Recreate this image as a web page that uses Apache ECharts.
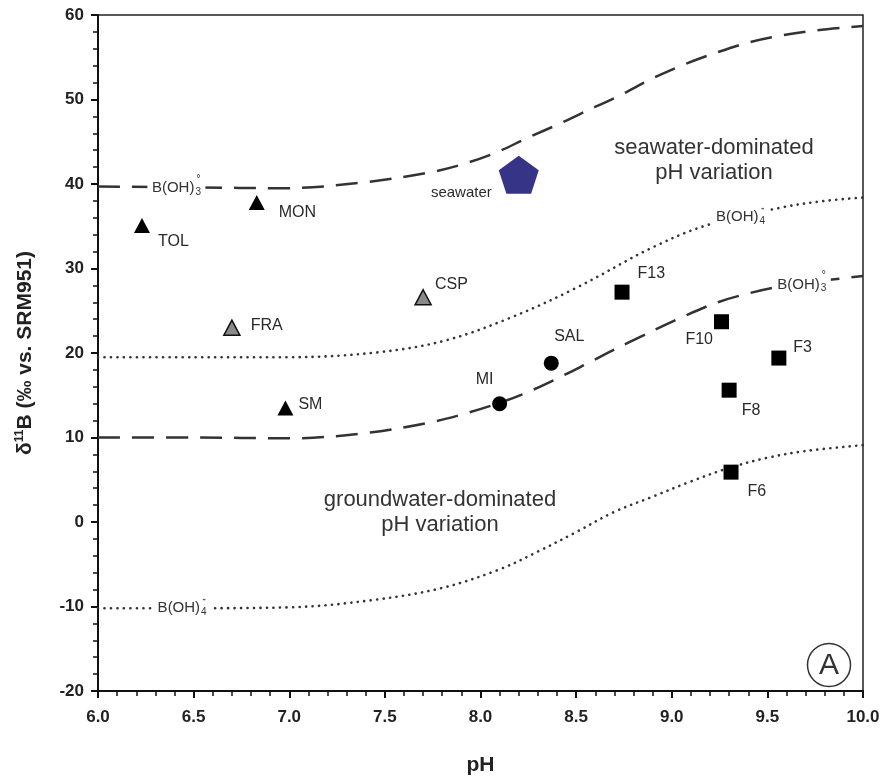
<!DOCTYPE html>
<html>
<head>
<meta charset="utf-8">
<script src="https://cdn.jsdelivr.net/npm/echarts@6/dist/echarts.min.js"></script>
<style>
html,body{margin:0;padding:0;background:#fff;}
#chart{width:886px;height:778px;}
</style>
</head>
<body>
<div id="chart"></div>
<script>
// ---- data ----
const seawaterB3Curve = [[6.0,39.7],[6.5,39.6],[6.97,39.5],[7.39,40.2],[7.74,41.4],[7.93,42.5],[8.09,43.8],[8.24,45.4],[8.42,47.2],[8.53,48.4],[8.73,50.5],[8.90,52.5],[9.06,54.1],[9.24,55.6],[9.41,56.8],[9.58,57.6],[9.76,58.2],[10.0,58.7]];
const seawaterB4Curve = [[6.0,19.5],[6.5,19.5],[7.0,19.5],[7.47,20.1],[7.82,21.5],[8.17,24.3],[8.5,27.7],[8.9,32.5],[9.18,35.1],[9.57,37.2],[9.8,38.0],[10.0,38.4]];
const groundwaterB3Curve = [[6.0,10.0],[6.5,10.0],[7.0,9.9],[7.39,10.5],[7.74,11.8],[7.93,12.9],[8.10,14.1],[8.26,15.5],[8.43,17.3],[8.57,18.9],[8.77,21.2],[9.06,24.3],[9.24,26.0],[9.41,27.1],[9.6,28.0],[9.8,28.6],[10.0,29.1]];
const groundwaterB4Curve = [[6.0,-10.2],[6.5,-10.2],[7.0,-10.1],[7.45,-9.2],[7.8,-7.8],[8.1,-5.6],[8.3,-3.5],[8.5,-1.2],[8.7,1.2],[8.9,3.0],[9.1,4.8],[9.3,6.4],[9.5,7.6],[9.7,8.4],[10.0,9.1]];

const blackTriangles = [['TOL',6.23,35.1],['MON',6.83,37.8],['SM',6.98,13.5]];
const grayTriangles  = [['FRA',6.70,23.0],['CSP',7.70,26.6]];
const circles        = [['MI',8.10,14.0],['SAL',8.37,18.8]];
const squares        = [['F13',8.74,27.2],['F10',9.26,23.7],['F3',9.56,19.4],['F8',9.30,15.6],['F6',9.31,5.9]];
const seawaterPoint  = [['seawater',8.20,41.1]];

// curve labels: [species subscript, superscript, pH, δ11B]
const curveLabels = [['3','°',6.41,39.5],['4','-',9.36,36.1],['3','°',9.68,28.1],['4','-',6.44,-10.2]];

const xTickValues = [6.0,6.5,7.0,7.5,8.0,8.5,9.0,9.5,10.0];
const yTickValues = [-20,-10,0,10,20,30,40,50,60];

// ---- styles / layout ----
const FONT = "'Liberation Sans', Arial, Helvetica, sans-serif";
const TXT = '#2a2a2a';
const labelPlacement = {
  TOL:{position:'right',offset:[3,16]},
  MON:{position:'right',offset:[9,10]},
  SM:{position:'right',offset:[0,-3]},
  FRA:{position:'right',offset:[5,-2]},
  CSP:{position:'right',offset:[-2,-13]},
  MI:{position:'top',offset:[-15,-4]},
  SAL:{position:'top',offset:[18,-6]},
  F13:{position:'right',offset:[3,-19]},
  F10:{position:'left',offset:[4,18]},
  F3:{position:'right',offset:[2,-10]},
  F8:{position:'right',offset:[0,20]},
  F6:{position:'right',offset:[4,19]},
  seawater:{position:'left',offset:[-2,18]}
};

function pointData(arr){
  return arr.map(d => ({
    name:d[0], value:[d[1],d[2]],
    label:Object.assign({show:true, formatter:'{b}', color:TXT, fontFamily:FONT,
      fontSize: d[0]==='seawater'?15:16, distance:5}, labelPlacement[d[0]])
  }));
}

function curveSeries(data, dash){
  return {
    type:'line', data:data, smooth:0.35, showSymbol:false, symbol:'none', z:2,
    silent:true,
    lineStyle:{color:'#333', width: dash==='dash'?2.5:2.6,
      type: dash==='dash' ? [22,12] : [0.1,6.4], cap: dash==='dash'?'butt':'round'}
  };
}

const chart = echarts.init(document.getElementById('chart'));
const option = {
  animation:false,
  backgroundColor:'#fff',
  grid:{left:98, right:23, top:15, bottom:87, outerBoundsMode:'none', containLabel:false,
    show:true, borderColor:'#222', borderWidth:1.5, backgroundColor:'transparent'},
  xAxis:{
    type:'value', min:6, max:10, interval:0.5,
    name:'pH', nameLocation:'middle', nameGap:64,
    nameTextStyle:{fontFamily:FONT, fontWeight:'bold', fontSize:21, color:'#222'},
    axisLine:{show:true, onZero:false, lineStyle:{color:'#111', width:2}},
    axisTick:{show:true, inside:false, length:7, lineStyle:{color:'#111', width:2}},
    minorTick:{show:true, splitNumber:5, length:5, lineStyle:{color:'#111', width:1.5}},
    splitLine:{show:false},
    axisLabel:{fontFamily:FONT, fontWeight:'bold', fontSize:17, color:'#222', margin:18,
      formatter:v => { const t = xTickValues.find(k=>Math.abs(k-v)<1e-6); return t===undefined?'':t.toFixed(1); }}
  },
  yAxis:{
    type:'value', min:-20, max:60, interval:10,
    name:'δ{sup|11}B (‰ vs. SRM951)', nameLocation:'middle', nameGap:62, nameRotate:90,
    nameTextStyle:{fontFamily:FONT, fontWeight:'bold', fontSize:21, color:'#222',
      rich:{sup:{fontFamily:FONT, fontWeight:'bold', fontSize:12, color:'#222', verticalAlign:'top', padding:[0,0,10,0]}}},
    axisLine:{show:true, onZero:false, lineStyle:{color:'#111', width:2}},
    axisTick:{show:true, inside:false, length:7, lineStyle:{color:'#111', width:2}},
    minorTick:{show:true, splitNumber:5, length:5, lineStyle:{color:'#111', width:1.5}},
    splitLine:{show:false},
    axisLabel:{fontFamily:FONT, fontWeight:'bold', fontSize:17, color:'#222', margin:14,
      formatter:v => { const t = yTickValues.find(k=>Math.abs(k-v)<1e-6); return t===undefined?'':String(t); }}
  },
  series:[
    curveSeries(seawaterB3Curve,'dash'),
    curveSeries(seawaterB4Curve,'dot'),
    curveSeries(groundwaterB3Curve,'dash'),
    curveSeries(groundwaterB4Curve,'dot'),
    { // curve labels, on a white box that breaks the curve
      type:'scatter', z:5, silent:true, symbol:'rect', symbolSize:[58,18],
      itemStyle:{color:'#ffffff', opacity:1},
      data: curveLabels.map(d => ({value:[d[2],d[3]], sub:d[0]})),
      label:{show:true, position:'inside',
        formatter: p => '{b|B(OH)}{s|' + p.data.sub + '}',
        rich:{b:{fontFamily:FONT, fontSize:15, color:'#333', lineHeight:18},
              s:{fontFamily:FONT, fontSize:10, color:'#333', verticalAlign:'bottom', padding:[8,0,0,1], lineHeight:18}}}
    },
    { // curve label superscripts
      type:'scatter', z:6, silent:true, symbolSize:0, itemStyle:{color:'#fff'},
      data: curveLabels.map(d => ({value:[d[2],d[3]], sup:d[1]})),
      label:{show:true, position:'inside', offset:[22,-9], formatter: p => p.data.sup,
        fontFamily:FONT, fontSize:10, color:'#333', fontWeight:'bold'}
    },
    {
      type:'scatter', z:4, symbol:'triangle', symbolSize:[16,15],
      itemStyle:{color:'#000', opacity:1}, data:pointData(blackTriangles)
    },
    {
      type:'scatter', z:4, symbol:'triangle', symbolSize:[16,15],
      itemStyle:{color:'#8a8a8a', borderColor:'#111', borderWidth:1.5, opacity:1}, data:pointData(grayTriangles)
    },
    {
      type:'scatter', z:4, symbol:'circle', symbolSize:15,
      itemStyle:{color:'#000', opacity:1}, data:pointData(circles)
    },
    {
      type:'scatter', z:4, symbol:'rect', symbolSize:15,
      itemStyle:{color:'#000', opacity:1}, data:pointData(squares)
    },
    {
      type:'scatter', z:4, symbol:'path://M0,-1 L0.951,-0.309 L0.588,0.809 L-0.588,0.809 L-0.951,-0.309 Z',
      symbolSize:[40,38], itemStyle:{color:'#363487', opacity:1}, data:pointData(seawaterPoint)
    }
  ],
  graphic:[
    {type:'text', x:714, y:160, silent:true, style:{text:'seawater-dominated\npH variation', fill:'#333',
      font:'22px ' + FONT, align:'center', verticalAlign:'middle', lineHeight:25}},
    {type:'text', x:440, y:512, silent:true, style:{text:'groundwater-dominated\npH variation', fill:'#333',
      font:'22px ' + FONT, align:'center', verticalAlign:'middle', lineHeight:25}},
    {type:'circle', shape:{cx:829, cy:665, r:21.5}, silent:true, style:{fill:'none', stroke:'#333', lineWidth:1.5}},
    {type:'text', x:829, y:666, silent:true, style:{text:'A', fill:'#333', font:'30px ' + FONT, align:'center', verticalAlign:'middle'}}
  ]
};
chart.setOption(option);
</script>
</body>
</html>
